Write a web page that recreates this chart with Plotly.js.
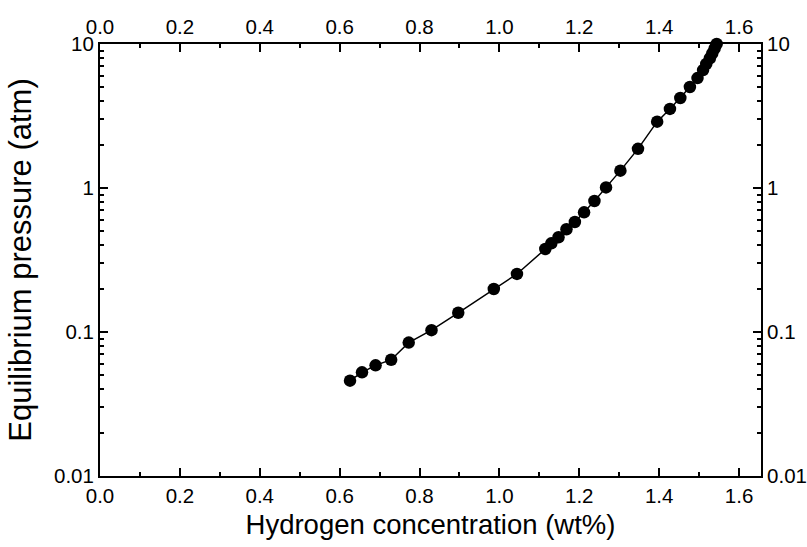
<!DOCTYPE html>
<html>
<head>
<meta charset="utf-8">
<script src="https://cdn.plot.ly/plotly-3.0.1.min.js"></script>
<style>html,body{margin:0;padding:0;background:#fff;}#chart{width:807px;height:547px;}</style>
</head>
<body>
<div id="chart"></div>
<script>
// Hydrogen concentration (wt%)
var concentration = [0.626, 0.656, 0.690, 0.729, 0.773, 0.830, 0.897, 0.986, 1.044, 1.115, 1.130, 1.148, 1.168, 1.189, 1.212, 1.238, 1.267, 1.303, 1.347, 1.395, 1.427, 1.453, 1.477, 1.496, 1.510, 1.518, 1.527, 1.533, 1.539, 1.544];
// Equilibrium pressure (atm)
var pressure = [0.0459, 0.0525, 0.0587, 0.0642, 0.0844, 0.103, 0.136, 0.199, 0.253, 0.377, 0.413, 0.455, 0.517, 0.581, 0.678, 0.812, 1.01, 1.32, 1.87, 2.89, 3.54, 4.22, 5.03, 5.80, 6.59, 7.27, 7.96, 8.61, 9.33, 10.0];

var yTickVals = [0.01, 0.1, 1, 10];
var yTickText = ['0.01', '0.1', '1', '10'];

var yMinor = [];
[0.01, 0.1, 1].forEach(function (d) { for (var k = 2; k <= 9; k++) yMinor.push(d * k); });

var fam = 'Liberation Sans, Arial, sans-serif';
var tickSize = 20.5;
function tf() { return {family: fam, size: tickSize, color: '#000'}; }

function xAxis(extra) {
  return Object.assign({
    range: [0, 1.655], dtick: 0.2, tick0: 0, tickformat: '.1f',
    ticks: 'inside', ticklen: 8, tickwidth: 2, tickcolor: '#000',
    showline: true, linewidth: 2, linecolor: '#000',
    showgrid: false, zeroline: false, tickfont: tf(),
    minor: {dtick: 0.1, tick0: 0, ticks: 'inside', ticklen: 4, tickwidth: 2, tickcolor: '#000', showgrid: false}
  }, extra);
}
function yAxis(extra) {
  return Object.assign({
    type: 'log', range: [-2, 1], tickmode: 'array', tickvals: yTickVals, ticktext: yTickText,
    ticks: 'inside', ticklen: 8, tickwidth: 2, tickcolor: '#000',
    showline: true, linewidth: 2, linecolor: '#000',
    showgrid: false, zeroline: false, tickfont: tf(),
    minor: {tickmode: 'array', tickvals: yMinor, ticks: 'inside', ticklen: 4, tickwidth: 2, tickcolor: '#000', showgrid: false}
  }, extra);
}

var trace = {
  x: concentration, y: pressure, type: 'scatter', mode: 'lines+markers',
  line: {color: '#000', width: 1.5},
  marker: {color: '#000', size: 12.5},
  showlegend: false, cliponaxis: false, hoverinfo: 'skip'
};
// invisible companion trace so the top and right axes are drawn
var mirrorTrace = {
  x: concentration, y: pressure, type: 'scatter', mode: 'markers',
  xaxis: 'x2', yaxis: 'y2',
  marker: {color: 'rgba(0,0,0,0)', size: 1},
  showlegend: false, hoverinfo: 'skip'
};

var layout = {
  width: 807, height: 547,
  font: {family: fam, size: tickSize, color: '#000'},
  margin: {l: 100, r: 46, t: 44, b: 71},
  paper_bgcolor: '#fff', plot_bgcolor: '#fff',
  xaxis: xAxis({
    title: {text: 'Hydrogen concentration (wt%)', font: {family: fam, size: 27.5, color: '#000'}, standoff: 9}
  }),
  xaxis2: xAxis({overlaying: 'x', side: 'top', anchor: 'y'}),
  yaxis: yAxis({
    title: {text: 'Equilibrium pressure (atm)', font: {family: fam, size: 31, color: '#000'}, standoff: 13}
  }),
  yaxis2: yAxis({overlaying: 'y', side: 'right', anchor: 'x'})
};

Plotly.newPlot('chart', [trace, mirrorTrace], layout, {staticPlot: true, displayModeBar: false});
</script>
</body>
</html>
